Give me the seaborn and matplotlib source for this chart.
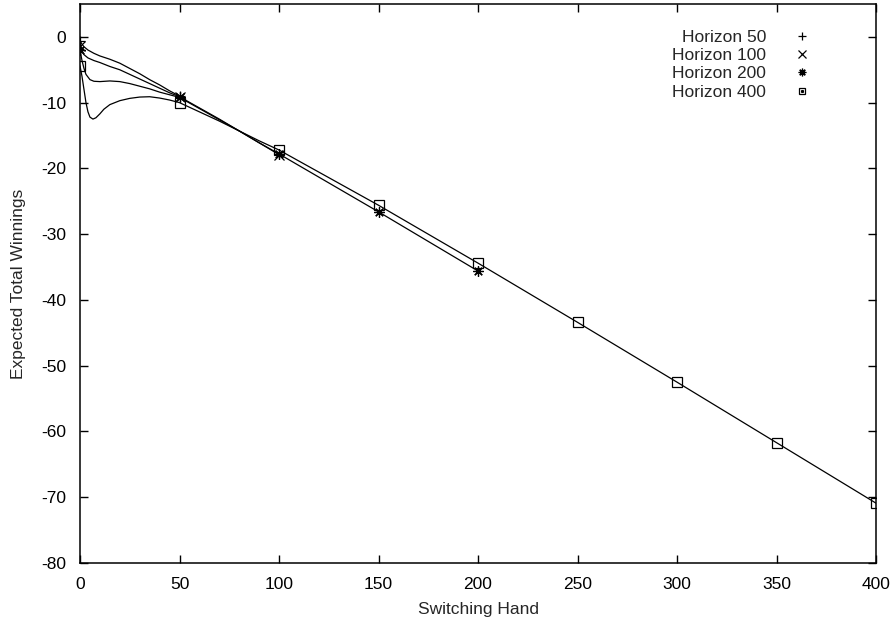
import numpy as np
import pandas as pd
import matplotlib
matplotlib.use("Agg")
import matplotlib.pyplot as plt
import seaborn as sns
from matplotlib.legend_handler import HandlerTuple

# ---- data ----
h50_x = [0, 1, 2, 4, 7, 10, 15, 20, 25, 30, 35, 40, 45, 50]
h50_y = [-0.6, -1.1, -1.5, -2.0, -2.5, -2.9, -3.4, -4.0, -4.8, -5.6, -6.5, -7.3, -8.2, -9.0]

h100_x = [0, 1, 2, 4, 7, 10, 15, 20, 25, 30, 35, 40, 45, 50, 60, 70, 80, 90, 100]
h100_y = [-1.4, -2.1, -2.7, -3.2, -3.6, -3.9, -4.5, -5.0, -5.7, -6.4, -7.1, -7.8, -8.5, -9.1,
          -10.8, -12.5, -14.3, -16.1, -17.9]

h200_x = [0, 1, 2, 3, 5, 7, 10, 15, 20, 25, 30, 35, 40, 45, 50, 60, 70, 80, 90, 100,
          125, 150, 175, 200]
h200_y = [-2.0, -3.6, -4.8, -5.7, -6.5, -6.75, -6.8, -6.7, -6.8, -7.1, -7.5, -7.9, -8.4, -8.8, -9.2,
          -10.9, -12.6, -14.3, -16.1, -17.8, -22.2, -26.6, -31.1, -35.6]

h400_x = [0, 1, 2, 3, 4, 5, 6.5, 8, 10, 12, 15, 20, 25, 30, 35, 40, 45, 50, 60, 70, 80, 90, 100,
          125, 150, 175, 200, 250, 300, 350, 400]
h400_y = [-4.4, -6.0, -8.0, -10.0, -11.4, -12.2, -12.5, -12.3, -11.7, -11.0, -10.3, -9.7, -9.35,
          -9.15, -9.1, -9.3, -9.6, -10.0, -11.4, -12.8, -14.3, -15.8, -17.2, -21.4, -25.6, -30.0,
          -34.4, -43.4, -52.5, -61.7, -70.9]

labels = ["Horizon 50", "Horizon 100", "Horizon 200", "Horizon 400"]
x_ticks = [0, 50, 100, 150, 200, 250, 300, 350, 400]
y_ticks = [0, -10, -20, -30, -40, -50, -60, -70, -80]

series = [(h50_x, h50_y), (h100_x, h100_y), (h200_x, h200_y), (h400_x, h400_y)]
markers = ["+", "x", (8, 2, 0), "s"]

sns.set_theme(style="ticks")
plt.rcParams["font.family"] = ["Liberation Sans", "DejaVu Sans"]
plt.rcParams["font.size"] = 12.5
plt.rcParams["axes.unicode_minus"] = False

fig = plt.figure(figsize=(8.96, 6.25), dpi=100)
ax = fig.add_axes([80 / 896, 1 - 563 / 625, (876 - 80) / 896, (563 - 4) / 625])

handles = []
for (xs, ys), lab, mk in zip(series, labels, markers):
    df = pd.DataFrame({"x": xs, "y": ys})
    sns.lineplot(data=df, x="x", y="y", ax=ax, color="black", lw=0.9,
                 sort=False, estimator=None)
    m = df[df["x"] % 50 == 0]
    ms = 6.5 if mk == "s" else 7.5
    ax.plot(m["x"], m["y"], linestyle="none", marker=mk, ms=ms,
            mfc="none", mec="black", mew=0.9, color="black")
    if mk == "s":
        hl, = ax.plot([], [], linestyle="none", marker="s", ms=5,
                      mfc="none", mec="black", mew=0.9)
        d, = ax.plot([], [], linestyle="none", marker="s", ms=1.2, color="black")
        handles.append((hl, d))
    else:
        hl, = ax.plot([], [], linestyle="none", marker=mk, ms=5.5,
                      mfc="none", mec="black", mew=0.9)
        handles.append(hl)

ax.set_xlim(0, 400)
ax.set_ylim(-80, 5)
ax.set_xticks(x_ticks)
ax.set_yticks(y_ticks)
ax.tick_params(direction="in", length=6, width=1, top=True, right=True,
               labelsize=12.5, pad=10, colors="black")
for s in ax.spines.values():
    s.set_visible(True)
    s.set_linewidth(1.1)
    s.set_color("black")

ax.set_xlabel("Switching Hand", fontsize=12.5, labelpad=7)
ax.set_ylabel("Expected Total Winnings", fontsize=12.5, labelpad=11)

ax.legend(handles, labels, markerfirst=False, frameon=False, loc="upper right",
          bbox_to_anchor=(0.933, 0.975), fontsize=12.5, handlelength=1.0,
          handletextpad=1.57, labelspacing=0.17, borderpad=0.2,
          handler_map={tuple: HandlerTuple(ndivide=1)})

fig.savefig("out.png", dpi=100)
